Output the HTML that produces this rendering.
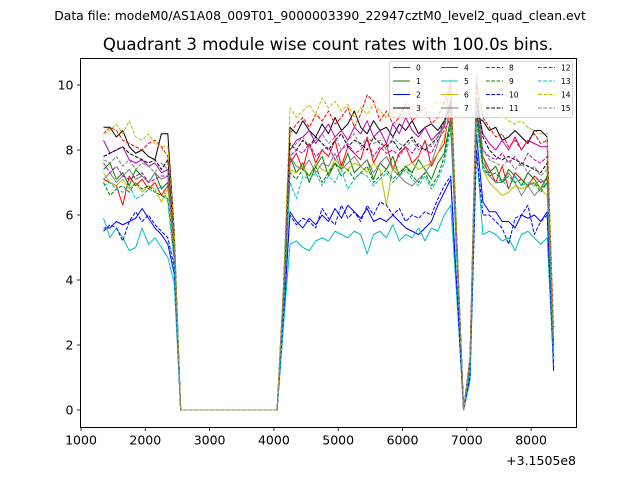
<!DOCTYPE html>
<html><head><meta charset="utf-8">
<style>
html,body{margin:0;padding:0;background:#fff;}
svg{display:block;font-family:"DejaVu Sans","Liberation Sans",sans-serif;}
</style></head>
<body>
<svg id="chart" width="640" height="480" viewBox="0 0 640 480" xmlns="http://www.w3.org/2000/svg">
<rect x="0" y="0" width="640" height="480" fill="#fff"/>
<text x="320" y="20" text-anchor="middle" font-size="12.4" fill="#000">Data file: modeM0/AS1A08_009T01_9000003390_22947cztM0_level2_quad_clean.evt</text>
<text x="328" y="50" text-anchor="middle" font-size="16.6" fill="#000">Quadrant 3 module wise count rates with 100.0s bins.</text>
<rect x="80.5" y="58.5" width="496" height="369" fill="#fff"/>
<g id="series"></g>
<rect x="80.5" y="58.5" width="496" height="369" fill="none" stroke="#000" stroke-width="1"/>
<g id="xaxis"></g>
<g id="yaxis"></g>
<text x="576" y="465" text-anchor="end" font-size="12.5" fill="#000">+3.1505e8</text>
<g id="legend"></g>
</svg>
<script>
const times=[1350,1450,1550,1650,1750,1850,1950,2050,2150,2250,2350,2450,2550,2650,2750,2850,2950,3050,3150,3250,3350,3450,3550,3650,3750,3850,3950,4050,4150,4250,4350,4450,4550,4650,4750,4850,4950,5050,5150,5250,5350,5450,5550,5650,5750,5850,5950,6050,6150,6250,6350,6450,6550,6650,6750,6850,6950,7050,7150,7250,7350,7450,7550,7650,7750,7850,7950,8050,8150,8250,8350];
const xTicks=[1000,2000,3000,4000,5000,6000,7000,8000];
const yTicks=[0,2,4,6,8,10];
const seriesNames=["0","1","2","3","4","5","6","7","8","9","10","11","12","13","14","15"];
const s0=[7.1,7.0,6.9,6.3,7.2,6.9,7.1,6.8,7.0,6.6,6.9,5.0,0,0,0,0,0,0,0,0,0,0,0,0,0,0,0,0,3.5,7.6,7.9,7.4,8.2,7.6,8.0,7.8,8.3,7.5,8.1,7.9,7.7,8.4,7.6,8.0,8.2,7.4,7.9,8.1,7.6,7.8,8.3,7.5,7.9,8.2,9.5,4.8,0,1.4,9.6,7.8,7.4,7.0,7.5,6.8,7.3,7.1,6.9,7.2,7.0,7.1,1.9];
const s1=[7.4,7.6,7.1,7.3,6.9,7.4,7.2,7.0,7.3,6.8,7.0,4.8,0,0,0,0,0,0,0,0,0,0,0,0,0,0,0,0,3.3,7.8,7.3,7.6,7.0,7.5,7.8,7.2,7.6,7.4,7.9,7.3,7.5,7.7,7.1,7.6,7.4,7.8,7.2,7.5,7.3,7.7,7.4,7.1,7.6,7.9,9.0,4.6,0,1.3,9.2,7.6,7.3,7.5,7.0,7.4,7.2,6.9,7.3,7.1,6.8,7.2,1.5];
const s2=[5.6,5.6,5.8,5.7,5.8,5.9,6.2,5.9,5.6,5.4,5.1,4.2,0,0,0,0,0,0,0,0,0,0,0,0,0,0,0,0,2.8,6.1,5.8,5.6,5.9,5.7,6.0,5.8,6.2,5.9,6.3,6.1,5.9,6.2,5.8,5.9,5.8,6.0,5.8,5.6,5.5,5.4,5.6,5.8,6.3,6.7,7.1,3.5,0,1.0,8.5,6.4,6.1,6.1,5.8,5.8,5.6,6.0,5.9,6.0,5.8,6.1,1.2];
const s3=[8.7,8.7,8.4,8.6,8.1,7.9,8.0,7.8,7.7,8.5,8.5,5.5,0,0,0,0,0,0,0,0,0,0,0,0,0,0,0,0,3.8,8.7,8.5,8.9,8.6,8.4,8.8,8.5,9.0,8.6,8.8,9.2,8.7,8.5,8.9,8.6,8.7,8.4,8.8,8.6,8.9,8.5,8.7,8.8,8.6,8.9,9.3,5.0,0,1.6,9.0,8.9,8.6,8.7,8.3,8.4,8.6,8.4,8.2,8.6,8.6,8.4,2.0];
const s4=[8.3,7.9,8.0,8.1,7.7,7.6,7.7,7.5,7.6,7.3,7.4,4.9,0,0,0,0,0,0,0,0,0,0,0,0,0,0,0,0,3.5,8.0,8.3,8.4,8.6,8.2,8.5,8.8,8.4,8.6,8.3,8.7,8.5,8.9,8.4,8.6,8.2,8.8,8.5,9.0,8.6,8.4,8.7,8.3,8.5,8.7,9.6,4.9,0,1.5,9.5,8.5,8.2,8.0,8.3,8.0,8.4,8.0,8.3,8.2,8.1,8.1,1.6];
const s5=[5.9,5.3,5.6,5.3,4.9,5.0,5.6,5.1,5.3,5.0,4.7,3.9,0,0,0,0,0,0,0,0,0,0,0,0,0,0,0,0,2.6,5.1,5.2,5.0,4.9,5.2,5.3,5.2,5.5,5.4,5.3,5.5,5.4,4.8,5.4,5.5,5.3,5.7,5.2,5.4,5.3,5.6,5.2,5.6,5.5,6.0,6.3,3.3,0,0.9,8.0,5.4,5.5,5.4,5.2,5.3,4.9,5.4,5.5,5.3,5.1,5.3,1.3];
const s6=[7.3,7.0,6.9,7.1,6.8,7.0,6.7,6.9,6.8,6.4,6.8,5.0,0,0,0,0,0,0,0,0,0,0,0,0,0,0,0,0,3.3,7.4,7.3,7.5,7.2,7.6,7.4,7.3,7.7,7.5,7.4,7.6,7.5,7.3,7.6,7.4,6.3,7.5,7.3,7.5,7.6,7.4,7.5,7.6,7.9,8.4,9.2,4.6,0,1.4,9.0,7.4,7.0,6.8,6.6,6.7,6.9,6.8,6.9,7.0,6.8,6.6,1.8];
const s7=[7.1,7.3,7.0,7.2,7.4,7.1,7.2,7.0,7.3,7.1,7.2,5.2,0,0,0,0,0,0,0,0,0,0,0,0,0,0,0,0,3.5,7.8,7.5,7.4,7.7,7.3,7.6,7.5,7.9,7.4,7.6,7.8,7.5,7.7,7.3,7.6,7.8,7.4,7.2,7.0,6.9,7.1,7.3,7.6,8.2,8.8,10.2,5.0,0,1.5,10.3,7.8,7.2,7.0,7.0,7.3,7.0,6.6,6.9,6.6,6.8,7.0,2.0];
const s8=[8.5,8.7,8.6,8.3,8.2,8.1,8.0,8.2,8.3,8.1,7.8,5.3,0,0,0,0,0,0,0,0,0,0,0,0,0,0,0,0,3.8,8.5,8.8,9.0,8.7,9.1,8.9,9.2,8.8,9.0,9.3,8.7,9.1,9.7,9.5,8.9,9.2,8.8,9.0,9.4,8.9,9.1,9.3,8.8,9.0,9.5,10.0,5.0,0,1.6,10.0,9.0,8.7,8.4,8.5,8.1,8.3,8.0,8.3,8.5,8.2,8.3,2.5];
const s9=[7.0,6.6,6.8,6.9,6.7,7.0,6.8,6.9,6.7,6.6,6.5,4.7,0,0,0,0,0,0,0,0,0,0,0,0,0,0,0,0,3.2,7.3,7.1,7.4,7.2,7.5,7.0,7.3,7.6,7.2,7.4,7.1,7.3,7.5,7.0,7.2,7.4,7.1,7.3,7.5,7.2,7.0,7.3,6.9,7.2,7.8,8.8,4.5,0,1.3,9.0,7.5,7.2,7.3,7.0,7.2,7.0,7.1,6.9,7.0,6.7,7.0,1.6];
const s10=[5.5,5.7,5.6,5.2,5.8,6.1,5.8,6.0,5.7,5.5,5.3,4.4,0,0,0,0,0,0,0,0,0,0,0,0,0,0,0,0,2.9,6.0,5.7,5.9,5.8,5.6,6.2,5.9,5.7,6.3,5.9,6.1,5.8,6.3,6.0,6.4,6.3,6.0,6.2,5.8,6.0,5.9,6.1,6.0,6.5,6.9,7.2,3.6,0,1.0,8.0,6.0,6.0,5.8,5.6,5.1,5.9,6.0,6.3,5.4,5.8,6.0,1.3];
const s11=[7.8,7.9,8.0,8.1,7.9,7.8,7.7,7.6,7.7,7.4,7.7,5.3,0,0,0,0,0,0,0,0,0,0,0,0,0,0,0,0,3.6,8.2,8.0,8.3,8.1,8.4,8.2,8.0,8.3,8.5,8.1,8.3,8.2,8.0,8.4,8.2,8.1,8.3,8.0,8.2,8.4,8.1,8.0,8.2,8.4,8.9,9.4,4.8,0,1.5,9.6,8.4,8.0,7.8,7.7,7.8,7.7,7.6,7.5,7.4,7.3,7.6,1.9];
const s12=[7.6,7.3,7.5,7.2,7.1,7.2,7.3,7.0,7.1,7.2,7.2,5.0,0,0,0,0,0,0,0,0,0,0,0,0,0,0,0,0,3.5,7.8,8.0,7.9,8.2,7.8,8.0,8.1,7.7,8.0,8.2,7.9,8.0,8.3,7.8,8.1,7.9,8.0,7.8,8.1,7.9,8.2,8.0,7.9,8.3,8.6,9.0,4.7,0,1.4,9.3,8.0,7.8,7.7,7.9,7.6,7.8,7.5,7.9,7.7,7.6,7.8,1.7];
const s13=[6.9,7.0,6.8,6.7,6.9,6.5,6.6,6.8,6.7,6.9,6.4,4.5,0,0,0,0,0,0,0,0,0,0,0,0,0,0,0,0,3.0,7.0,6.5,7.2,7.1,7.3,6.9,7.2,7.0,7.4,6.8,7.1,7.3,7.2,6.9,7.1,7.3,7.0,7.2,7.4,7.1,6.9,7.2,6.8,7.1,7.6,8.6,4.4,0,1.2,8.8,7.4,7.2,7.0,7.1,6.8,7.2,6.9,7.0,6.9,7.1,6.9,1.5];
const s14=[8.5,8.6,8.8,8.5,8.9,8.4,8.3,8.5,8.2,8.1,8.1,5.5,0,0,0,0,0,0,0,0,0,0,0,0,0,0,0,0,3.9,9.3,9.0,9.2,9.4,9.1,9.6,9.3,9.5,9.2,9.4,9.0,9.3,9.1,9.4,9.2,9.0,9.3,9.1,9.5,9.2,9.4,9.0,9.3,9.5,9.4,9.8,5.1,0,1.6,9.9,9.2,9.1,9.0,9.1,8.9,8.8,8.9,8.7,8.6,8.5,8.5,2.2];
const s15=[7.7,7.6,7.8,7.5,7.7,7.4,7.6,7.5,7.3,7.6,7.4,5.1,0,0,0,0,0,0,0,0,0,0,0,0,0,0,0,0,3.6,8.0,8.2,8.4,8.1,8.3,8.5,8.2,8.4,8.0,8.3,8.5,8.1,8.4,8.2,8.3,8.0,8.4,8.2,8.1,8.3,8.0,8.2,8.1,8.4,8.8,9.3,4.8,0,1.5,9.4,8.0,7.7,7.6,7.5,7.7,7.4,7.6,7.3,7.5,7.2,7.4,1.8];
const allSeries=[s0,s1,s2,s3,s4,s5,s6,s7,s8,s9,s10,s11,s12,s13,s14,s15];

const NS="http://www.w3.org/2000/svg";
const colors=["#ff0000","#008000","#0000ff","#000000","#bf00bf","#00bfbf","#bfbf00","#808080"];
const X0=80.5,X1=576.5,Y0=58.5,Y1=427.5;
function xPos(t){return 81+(t-1000)*0.0643;}
function yPos(v){return 410-v*32.5;}
function mk(tag,attrs,parent){const e=document.createElementNS(NS,tag);for(const k in attrs)e.setAttribute(k,attrs[k]);parent.appendChild(e);return e;}

const sg=document.getElementById('series');
allSeries.forEach((vals,i)=>{
  const d=vals.map((v,j)=>(j?'L':'M')+xPos(times[j]).toFixed(2)+','+yPos(v).toFixed(2)).join(' ');
  const p=mk('path',{d:d,fill:'none',stroke:colors[i%8],'stroke-width':1,'stroke-linejoin':'round'},sg);
  if(i>=8)p.setAttribute('stroke-dasharray','3.7 1.6');
  
  
});

const xg=document.getElementById('xaxis');
xTicks.forEach(t=>{
  const x=xPos(t);
  const l=mk('line',{x1:x,x2:x,y1:Y1,y2:Y1+3.5,stroke:'#000','stroke-width':0.8},xg);
  
  
  const tx=mk('text',{x:x,y:Y1+17,'text-anchor':'middle','font-size':12.5,fill:'#000'},xg);
  tx.textContent=t;
  
  
});
const yg=document.getElementById('yaxis');
yTicks.forEach(v=>{
  const y=yPos(v);
  const l=mk('line',{x1:X0-3.5,x2:X0,y1:y,y2:y,stroke:'#000','stroke-width':0.8},yg);
  
  
  const tx=mk('text',{x:X0-7,y:y+4.5,'text-anchor':'end','font-size':12.5,fill:'#000'},yg);
  tx.textContent=v;
  
  
});

const lg=document.getElementById('legend');
const box=mk('rect',{x:389.5,y:61.5,width:183,height:56,rx:2,fill:'#fff','fill-opacity':0.8,stroke:'#cccccc','stroke-width':0.8},lg);


const colX=[393,441,486,538],rowY=[67.5,81,94.5,108];
seriesNames.forEach((n,i)=>{
  const c=Math.floor(i/4),r=i%4;
  const g=mk('g',{},lg);
  
  
  const l=mk('line',{x1:colX[c],x2:colX[c]+17,y1:rowY[r],y2:rowY[r],stroke:colors[i%8],'stroke-width':1},g);
  if(i>=8)l.setAttribute('stroke-dasharray','3.7 1.6');
  const t=mk('text',{x:colX[c]+23,y:rowY[r]+2.8,'font-size':7.5,fill:'#000'},g);
  t.textContent=n;
});
</script>
</body></html>
